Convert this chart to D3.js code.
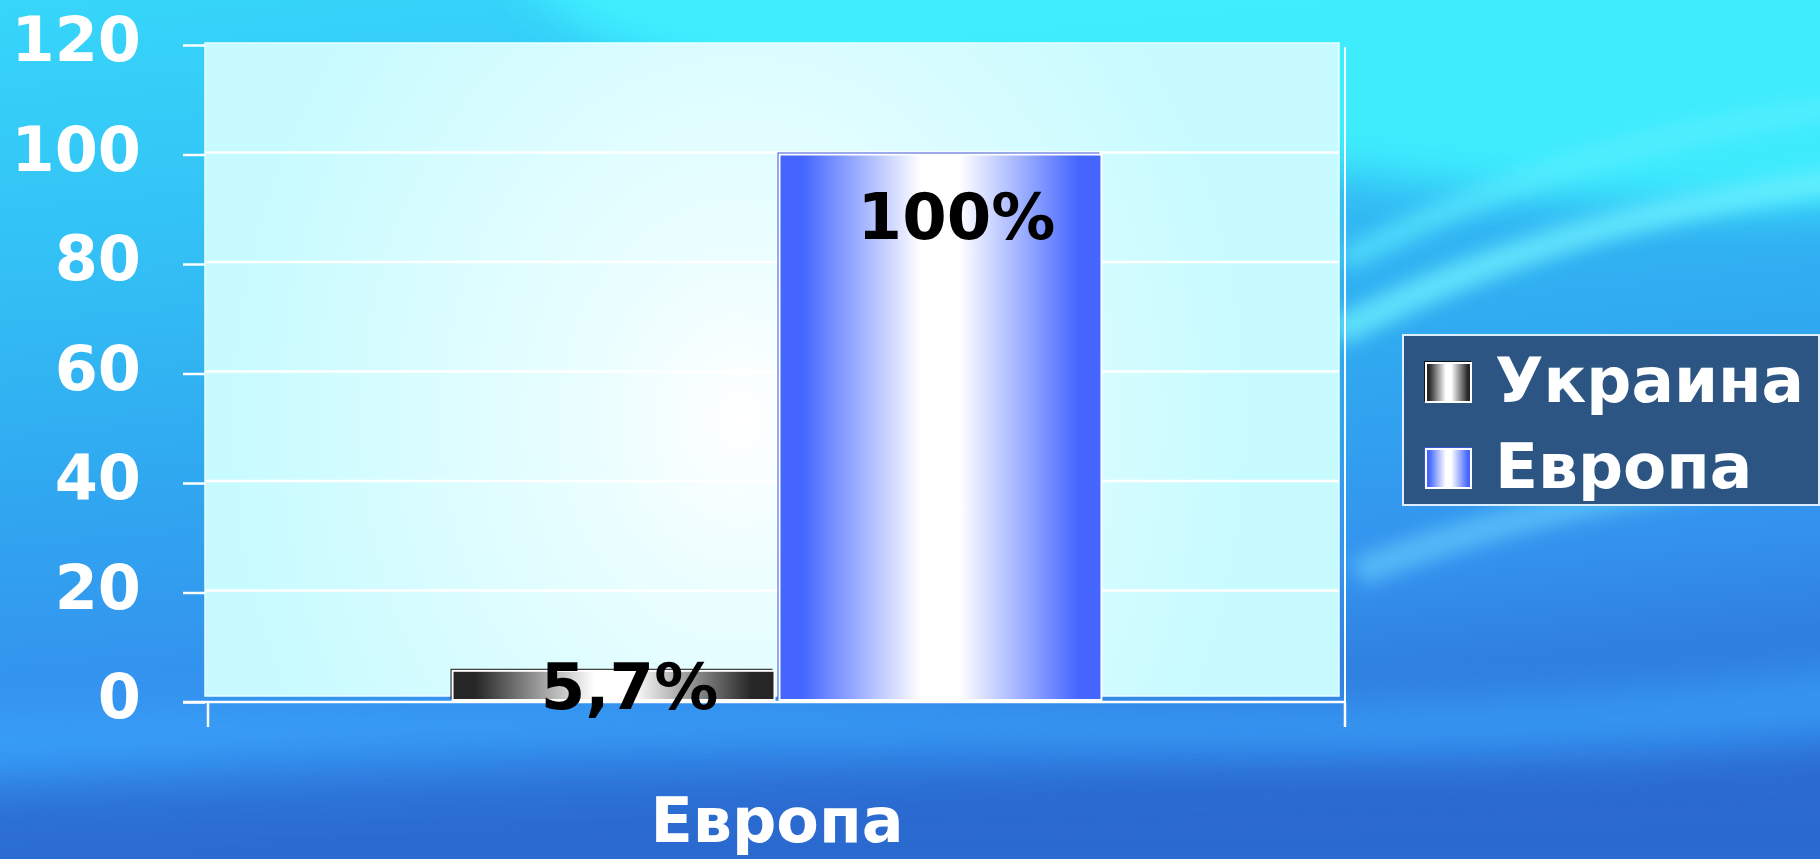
<!DOCTYPE html>
<html>
<head>
<meta charset="utf-8">
<script src="https://cdn.jsdelivr.net/npm/d3@7/dist/d3.min.js"></script>
<style>
  html, body { margin: 0; padding: 0; overflow: hidden; background: #2f8fe8; }
  svg { display: block; }
</style>
</head>
<body>
<svg id="chart" width="1820" height="859"></svg>
<script>
// Chart data
const categories = ["Европа"];
const seriesNames = ["Украина", "Европа"];
const seriesValues = [5.7, 100];
const valueLabels = ["5,7%", "100%"];
const yTicks = [0, 20, 40, 60, 80, 100, 120];

const W = 1820, H = 859;
const svg = d3.select("#chart");
const defs = svg.append("defs");

// ---------- gradients ----------
const bg = defs.append("linearGradient").attr("id", "bgGrad")
  .attr("x1", "0").attr("y1", "0").attr("x2", "0.2").attr("y2", "1");
[[0, "#37d6fa"], [0.3, "#33c0f5"], [0.55, "#30a8f0"], [0.78, "#3492ee"], [1, "#2c6ed4"]]
  .forEach(([o, c]) => bg.append("stop").attr("offset", o).attr("stop-color", c));

const blur = defs.append("filter").attr("id", "soft").attr("x", "-20%").attr("y", "-50%")
  .attr("width", "140%").attr("height", "200%");
blur.append("feGaussianBlur").attr("stdDeviation", 22);

const blurSmall = defs.append("filter").attr("id", "softS").attr("x", "-20%").attr("y", "-50%")
  .attr("width", "140%").attr("height", "200%");
blurSmall.append("feGaussianBlur").attr("stdDeviation", 9);

const wallGrad = defs.append("radialGradient").attr("id", "wallGrad")
  .attr("gradientUnits", "userSpaceOnUse")
  .attr("cx", 740).attr("cy", 420).attr("r", 560)
  .attr("gradientTransform", "translate(740,420) scale(0.9,1.1) translate(-740,-420)");
[[0, "#ffffff"], [0.3, "#eafeff"], [1, "#c8fbff"]]
  .forEach(([o, c]) => wallGrad.append("stop").attr("offset", o).attr("stop-color", c));

function barGradient(id, edge, mid) {
  const g = defs.append("linearGradient").attr("id", id)
    .attr("x1", "0").attr("y1", "0").attr("x2", "1").attr("y2", "0");
  [[0, edge], [0.07, edge], [0.44, mid], [0.56, mid], [0.93, edge], [1, edge]]
    .forEach(([o, c]) => g.append("stop").attr("offset", o).attr("stop-color", c));
}
barGradient("gradUkr", "#262626", "#ffffff");
barGradient("gradEur", "#4466ff", "#ffffff");
const fills = ["url(#gradUkr)", "url(#gradEur)"];
const edgeColors = ["#111111", "#3a55d8"];

// ---------- background ----------
svg.append("rect").attr("width", W).attr("height", H).attr("fill", "url(#bgGrad)");
const swoosh = svg.append("g");
// bright cyan sheen in the upper right
swoosh.append("path")
  .attr("d", "M500,-60 C1000,-40 1400,-40 1900,-80 L1900,200 C1600,230 1300,160 900,110 C700,80 550,50 500,-60 Z")
  .attr("fill", "#3ff4ff").attr("opacity", 0.85).attr("filter", "url(#soft)");
// diagonal light streaks on the right
swoosh.append("path")
  .attr("d", "M1330,320 C1480,240 1650,190 1900,160 L1900,185 C1660,215 1500,265 1345,345 Z")
  .attr("fill", "#6ff2ff").attr("opacity", 0.75).attr("filter", "url(#softS)");
swoosh.append("path")
  .attr("d", "M1340,250 C1500,160 1680,110 1900,90 L1900,110 C1690,135 1520,185 1350,270 Z")
  .attr("fill", "#5ff0ff").attr("opacity", 0.6).attr("filter", "url(#softS)");
swoosh.append("path")
  .attr("d", "M1350,560 C1500,500 1650,470 1900,450 L1900,475 C1660,495 1520,525 1365,585 Z")
  .attr("fill", "#6fd8ff").attr("opacity", 0.55).attr("filter", "url(#softS)");
// bright band near the floor
swoosh.append("path")
  .attr("d", "M-50,715 C300,700 700,695 1100,705 C1400,708 1650,690 1900,660 L1900,730 C1600,765 1300,755 1000,750 C600,745 300,755 -50,775 Z")
  .attr("fill", "#3aa8ff").attr("opacity", 0.7).attr("filter", "url(#soft)");
swoosh.append("path")
  .attr("d", "M-50,800 C400,790 900,810 1900,770 L1900,900 L-50,900 Z")
  .attr("fill", "#2c68cc").attr("opacity", 0.6).attr("filter", "url(#soft)");

// ---------- scales ----------
const plotLeft = 208, plotRight = 1346, wallLeft = 205, wallRight = 1339;
const y = d3.scaleLinear().domain([0, 120]).range([702, 45]);
const x = d3.scaleBand().domain(categories).range([plotLeft, plotRight]);
const xs = d3.scaleBand().domain(seriesNames).range([0, x.bandwidth()])
  .paddingInner(0.0153).paddingOuter(0.748);

// ---------- wall ----------
svg.append("rect")
  .attr("x", wallLeft).attr("y", y(120) - 2)
  .attr("width", wallRight - wallLeft).attr("height", 696 - (y(120) - 2))
  .attr("fill", "url(#wallGrad)")
  .attr("stroke", "#e8ffff").attr("stroke-width", 1.5);

// horizontal grid lines across the wall
svg.append("g").selectAll("line")
  .data(yTicks.filter(d => d > 0 && d < 120))
  .join("line")
  .attr("x1", wallLeft).attr("x2", wallRight)
  .attr("y1", d => y(d) - 2).attr("y2", d => y(d) - 2)
  .attr("stroke", "#ffffff").attr("stroke-width", 2.5);

// side edge on the right
svg.append("line")
  .attr("x1", plotRight - 1).attr("x2", plotRight - 1)
  .attr("y1", y(120) + 2).attr("y2", 727)
  .attr("stroke", "#f4ffff").attr("stroke-width", 2);

// ---------- y axis ----------
const yAxis = svg.append("g")
  .attr("transform", `translate(${wallLeft},0)`)
  .call(d3.axisLeft(y).tickValues(yTicks).tickSize(22).tickPadding(42).tickFormat(d3.format("d")));
yAxis.select(".domain").remove();
yAxis.selectAll(".tick line").attr("stroke", "#ffffff").attr("stroke-width", 2.5);
yAxis.selectAll(".tick text")
  .attr("fill", "#ffffff")
  .attr("font-family", "'DejaVu Sans', sans-serif")
  .attr("font-weight", "bold")
  .attr("font-size", 62)
  .attr("dy", "0.25em");

// ---------- x axis ----------
svg.append("line")
  .attr("x1", 183).attr("x2", plotRight)
  .attr("y1", y(0)).attr("y2", y(0))
  .attr("stroke", "#ffffff").attr("stroke-width", 2.5);
const xAxis = svg.append("g")
  .attr("transform", `translate(0,${y(0)})`)
  .call(d3.axisBottom(x).tickSize(0).tickPadding(140));
xAxis.select(".domain").remove();
xAxis.selectAll(".tick text")
  .attr("fill", "#ffffff")
  .attr("font-family", "'DejaVu Sans', sans-serif")
  .attr("font-weight", "bold")
  .attr("font-size", 62)
  .attr("dy", 0);
// category boundary ticks
svg.append("g").selectAll("line")
  .data([plotLeft, plotRight - 1])
  .join("line")
  .attr("x1", d => d).attr("x2", d => d)
  .attr("y1", y(0)).attr("y2", 727)
  .attr("stroke", "#ffffff").attr("stroke-width", 2.5);

// ---------- bars ----------
const barsData = seriesNames.map((s, i) => ({ name: s, value: seriesValues[i], label: valueLabels[i], i }));
const barG = svg.append("g").attr("transform", `translate(${x(categories[0])},0)`);
// dark back edge that gives the bars a little depth
barG.selectAll("rect.edge")
  .data(barsData).join("rect").attr("class", "edge")
  .attr("x", d => xs(d.name) - 2)
  .attr("y", d => y(d.value) - 2)
  .attr("width", xs.bandwidth())
  .attr("height", d => y(0) - y(d.value) - 1)
  .attr("fill", d => edgeColors[d.i]);
barG.selectAll("rect.bar")
  .data(barsData).join("rect").attr("class", "bar")
  .attr("x", d => xs(d.name))
  .attr("y", d => y(d.value))
  .attr("width", xs.bandwidth())
  .attr("height", d => y(0) - y(d.value) - 2)
  .attr("fill", d => fills[d.i])
  .attr("stroke", "#ffffff").attr("stroke-width", 2);

// value labels
const capH = 46;
barG.selectAll("text.val")
  .data(barsData).join("text").attr("class", "val")
  .attr("x", d => xs(d.name) + xs.bandwidth() / 2 + 16)
  .attr("y", d => {
    const top = y(d.value), h = y(0) - top;
    return h < 120 ? top + h / 2 + capH / 2 : top + 84;
  })
  .attr("text-anchor", "middle")
  .attr("font-family", "'DejaVu Sans', sans-serif")
  .attr("font-weight", "bold")
  .attr("font-size", 64)
  .attr("fill", "#000000")
  .text(d => d.label);

// ---------- legend ----------
const lg = svg.append("g");
lg.append("rect")
  .attr("x", 1403).attr("y", 335).attr("width", 416).attr("height", 170)
  .attr("fill", "#2c5584").attr("stroke", "#dfeeff").attr("stroke-width", 2);
const items = lg.selectAll("g.item").data(barsData).join("g").attr("class", "item")
  .attr("transform", (d, i) => `translate(1425,${362 + i * 86})`);
items.append("rect")
  .attr("x", -1).attr("y", -1).attr("width", 47).attr("height", 40)
  .attr("fill", d => edgeColors[d.i]);
items.append("rect")
  .attr("x", 1).attr("y", 1).attr("width", 45).attr("height", 39)
  .attr("fill", d => fills[d.i])
  .attr("stroke", "#ffffff").attr("stroke-width", 2);
items.append("text")
  .attr("x", 70).attr("y", 40)
  .attr("font-family", "'DejaVu Sans', sans-serif")
  .attr("font-weight", "bold")
  .attr("font-size", 63)
  .attr("fill", "#ffffff")
  .text(d => d.name);
</script>
</body>
</html>
